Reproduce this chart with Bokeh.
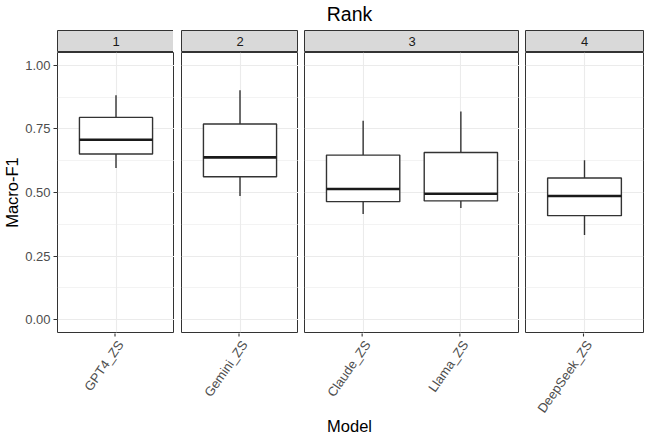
import numpy as np
import pandas as pd
from bokeh.plotting import figure
from bokeh.layouts import row, column
from bokeh.models import Range1d, FixedTicker, ColumnDataSource, LinearAxis, Grid
from bokeh.core.properties import value
from bokeh.embed import file_html
from bokeh.resources import INLINE

# ---------------- data ----------------
models = ["GPT4_ZS", "Gemini_ZS", "Claude_ZS", "Llama_ZS", "DeepSeek_ZS"]
ranks = [1, 2, 3, 3, 4]
whisker_low = [0.596, 0.486, 0.416, 0.439, 0.333]
q1 = [0.651, 0.562, 0.464, 0.467, 0.409]
median = [0.707, 0.638, 0.514, 0.495, 0.486]
q3 = [0.795, 0.769, 0.647, 0.657, 0.557]
whisker_high = [0.882, 0.902, 0.782, 0.818, 0.627]
y_ticks = [0.0, 0.25, 0.5, 0.75, 1.0]
y_tick_labels = ["0.00", "0.25", "0.50", "0.75", "1.00"]
y_minor = [0.125, 0.375, 0.625, 0.875]
title_text = "Rank"
x_title = "Model"
y_title = "Macro-F1"

# ---------------- style / layout ----------------
FONT = "Liberation Sans"
LINE = "#333333"
GRID = "#EBEBEB"
STRIP_FILL = "#D9D9D9"
TICK_TXT = "#4D4D4D"
UNIT_PX = 97.75
PANEL_GAP = 6.2
BOX_W = 0.75
PAD = 0.6
LEFT = 56          # page x of first panel frame
YLAB_W = 22
FRAME_H = 280
STRIP_H = 22
HEAD_H = 29
FOOT_H = 108
LABEL_ANGLE = 0.96          # radians (~55 deg)
Y_LO, Y_HI = -0.05, 1.05

df = pd.DataFrame(dict(model=models, rank=ranks, lo=whisker_low, q1=q1,
                       med=median, q3=q3, hi=whisker_high))
groups = [g.reset_index(drop=True).copy() for _, g in df.groupby("rank", sort=True)]
group_ranks = sorted(set(ranks))

# panel edges (relative to first frame) from the free-x scale widths
widths_u = [len(g) - 1 + 2 * PAD for g in groups]
lefts_f, rights_f, acc = [], [], 0.0
for k, wu in enumerate(widths_u):
    l = acc + k * PANEL_GAP
    lefts_f.append(l)
    rights_f.append(l + wu * UNIT_PX)
    acc += wu * UNIT_PX
lefts = [int(np.floor(v + 0.5)) for v in lefts_f]
rights = [int(np.floor(v + 0.5)) for v in rights_f]
frame_widths = [r - l for l, r in zip(lefts, rights)]
gaps = [0] + [lefts[k] - rights[k - 1] for k in range(1, len(lefts))]
total_w = rights[-1]


def bare(fig):
    fig.center = [r for r in fig.center if not isinstance(r, Grid)]
    fig.border_fill_color = "white"
    fig.min_border = 0
    return fig


cols = []
tick_rows = []
for k, (rank, g) in enumerate(zip(group_ranks, groups)):
    n = len(g)
    g["x"] = np.arange(1, n + 1, dtype=float)
    g["left"] = g["x"] - BOX_W / 2
    g["right"] = g["x"] + BOX_W / 2
    src = ColumnDataSource(g)
    fw = frame_widths[k]
    for xv, m in zip(g["x"], g["model"]):
        tick_rows.append((k, xv, n, m))
    xr = Range1d(1 - PAD, n + PAD)
    lb = (LEFT - YLAB_W) if k == 0 else gaps[k]

    # ---- strip ----
    s = bare(figure(frame_width=fw, frame_height=STRIP_H, x_range=xr, y_range=Range1d(0, 1),
                    x_axis_location=None, y_axis_location=None, toolbar_location=None,
                    output_backend="svg"))
    s.min_border_left = lb
    s.min_border_right = 1 if k == len(groups) - 1 else 0
    s.min_border_top = 1
    s.background_fill_color = STRIP_FILL
    s.outline_line_color = LINE
    s.outline_line_width = 1
    s.text(x=[(1 + n) / 2], y=[0.5], text=[str(rank)], text_align="center",
           text_baseline="middle", text_font=value(FONT), text_font_size="13px",
           text_color="#1A1A1A")

    # ---- panel ----
    p = bare(figure(frame_width=fw, frame_height=FRAME_H, x_range=xr,
                    y_range=Range1d(Y_LO, Y_HI), x_axis_location=None, y_axis_location=None,
                    toolbar_location=None, output_backend="svg"))
    p.min_border_left = lb
    p.min_border_right = 1 if k == len(groups) - 1 else 0
    p.min_border_bottom = 1
    p.background_fill_color = "white"
    p.outline_line_color = LINE
    p.outline_line_width = 1

    xt = FixedTicker(ticks=list(g["x"]))
    p.add_layout(Grid(dimension=0, ticker=xt, grid_line_color=GRID, grid_line_width=1.1))
    p.add_layout(Grid(dimension=1, ticker=FixedTicker(ticks=y_ticks, minor_ticks=y_minor),
                      grid_line_color=GRID, grid_line_width=1.1,
                      minor_grid_line_color=GRID, minor_grid_line_width=0.6))

    if k == 0:
        yax = LinearAxis(ticker=FixedTicker(ticks=y_ticks),
                         major_label_overrides=dict(zip(y_ticks, y_tick_labels)),
                         major_label_text_font=FONT, major_label_text_font_size="13px",
                         major_label_text_color=TICK_TXT, major_label_standoff=3,
                         major_tick_out=4, major_tick_in=0, major_tick_line_color=LINE,
                         minor_tick_out=0, minor_tick_in=0, axis_line_color=None)
        p.add_layout(yax, "left")

    # boxplot pieces
    p.segment(x0="x", y0="q3", x1="x", y1="hi", source=src, line_color=LINE, line_width=1.4)
    p.segment(x0="x", y0="lo", x1="x", y1="q1", source=src, line_color=LINE, line_width=1.4)
    p.quad(left="left", right="right", bottom="q1", top="q3", source=src,
           fill_color="white", line_color=LINE, line_width=1.4)
    p.segment(x0="left", y0="med", x1="right", y1="med", source=src,
              line_color="#1A1A1A", line_width=2.6)

    cols.append(column(s, p, spacing=0))

TOTAL_H = HEAD_H + 1 + STRIP_H + FRAME_H + 1 + FOOT_H


def text_strip(h):
    f = bare(figure(frame_width=total_w, frame_height=h, x_range=Range1d(0, total_w),
                    y_range=Range1d(0, h), x_axis_location=None, y_axis_location=None,
                    toolbar_location=None, output_backend="svg"))
    f.min_border_left = LEFT - YLAB_W
    f.min_border_right = 1
    f.outline_line_color = None
    return f


# ---- head: facet-variable title ----
head = text_strip(HEAD_H)
head.text(x=[total_w / 2], y=[HEAD_H - 13.7], text=[title_text], text_align="center",
          text_baseline="middle", text_font=value(FONT), text_font_size="19.5px",
          text_color="black")

# ---- foot: shared x axis (ticks, rotated labels, title) ----
tk = pd.DataFrame(tick_rows, columns=["panel", "x", "n", "model"])
tk["px"] = [lefts[pk] + (xv - (1 - PAD)) / (nn - 1 + 2 * PAD) * frame_widths[pk]
            for pk, xv, nn in zip(tk["panel"], tk["x"], tk["n"])]
tk["tick_top"] = FOOT_H + 1
tk["tick_bot"] = FOOT_H - 3
tk["lab_x"] = tk["px"] + 5.5
tk["lab_y"] = FOOT_H - 8.5
tsrc = ColumnDataSource(tk)

foot = text_strip(FOOT_H)
foot.segment(x0="px", y0="tick_top", x1="px", y1="tick_bot", source=tsrc,
             line_color=LINE, line_width=1.1)
foot.text(x="lab_x", y="lab_y", text="model", source=tsrc, angle=LABEL_ANGLE,
          text_align="right", text_baseline="middle", text_font=value(FONT),
          text_font_size="13px", text_color=TICK_TXT)
foot.text(x=[total_w / 2], y=[FOOT_H - 92.5], text=[x_title], text_align="center",
          text_baseline="middle", text_font=value(FONT), text_font_size="16.5px",
          text_color="black")

# ---- y-axis title ----
ylab = bare(figure(frame_width=YLAB_W, frame_height=TOTAL_H, x_range=Range1d(0, YLAB_W),
                   y_range=Range1d(0, TOTAL_H), x_axis_location=None, y_axis_location=None,
                   toolbar_location=None, output_backend="svg"))
ylab.outline_line_color = None
ylab.text(x=[11.2], y=[TOTAL_H - (HEAD_H + 1 + STRIP_H + FRAME_H / 2)], text=[y_title],
          angle=np.pi / 2, text_align="center", text_baseline="middle",
          text_font=value(FONT), text_font_size="16.5px", text_color="black")

layout = row(ylab, column(head, row(*cols, spacing=0), foot, spacing=0), spacing=0)

open("out.html", "w").write(file_html(layout, INLINE))
